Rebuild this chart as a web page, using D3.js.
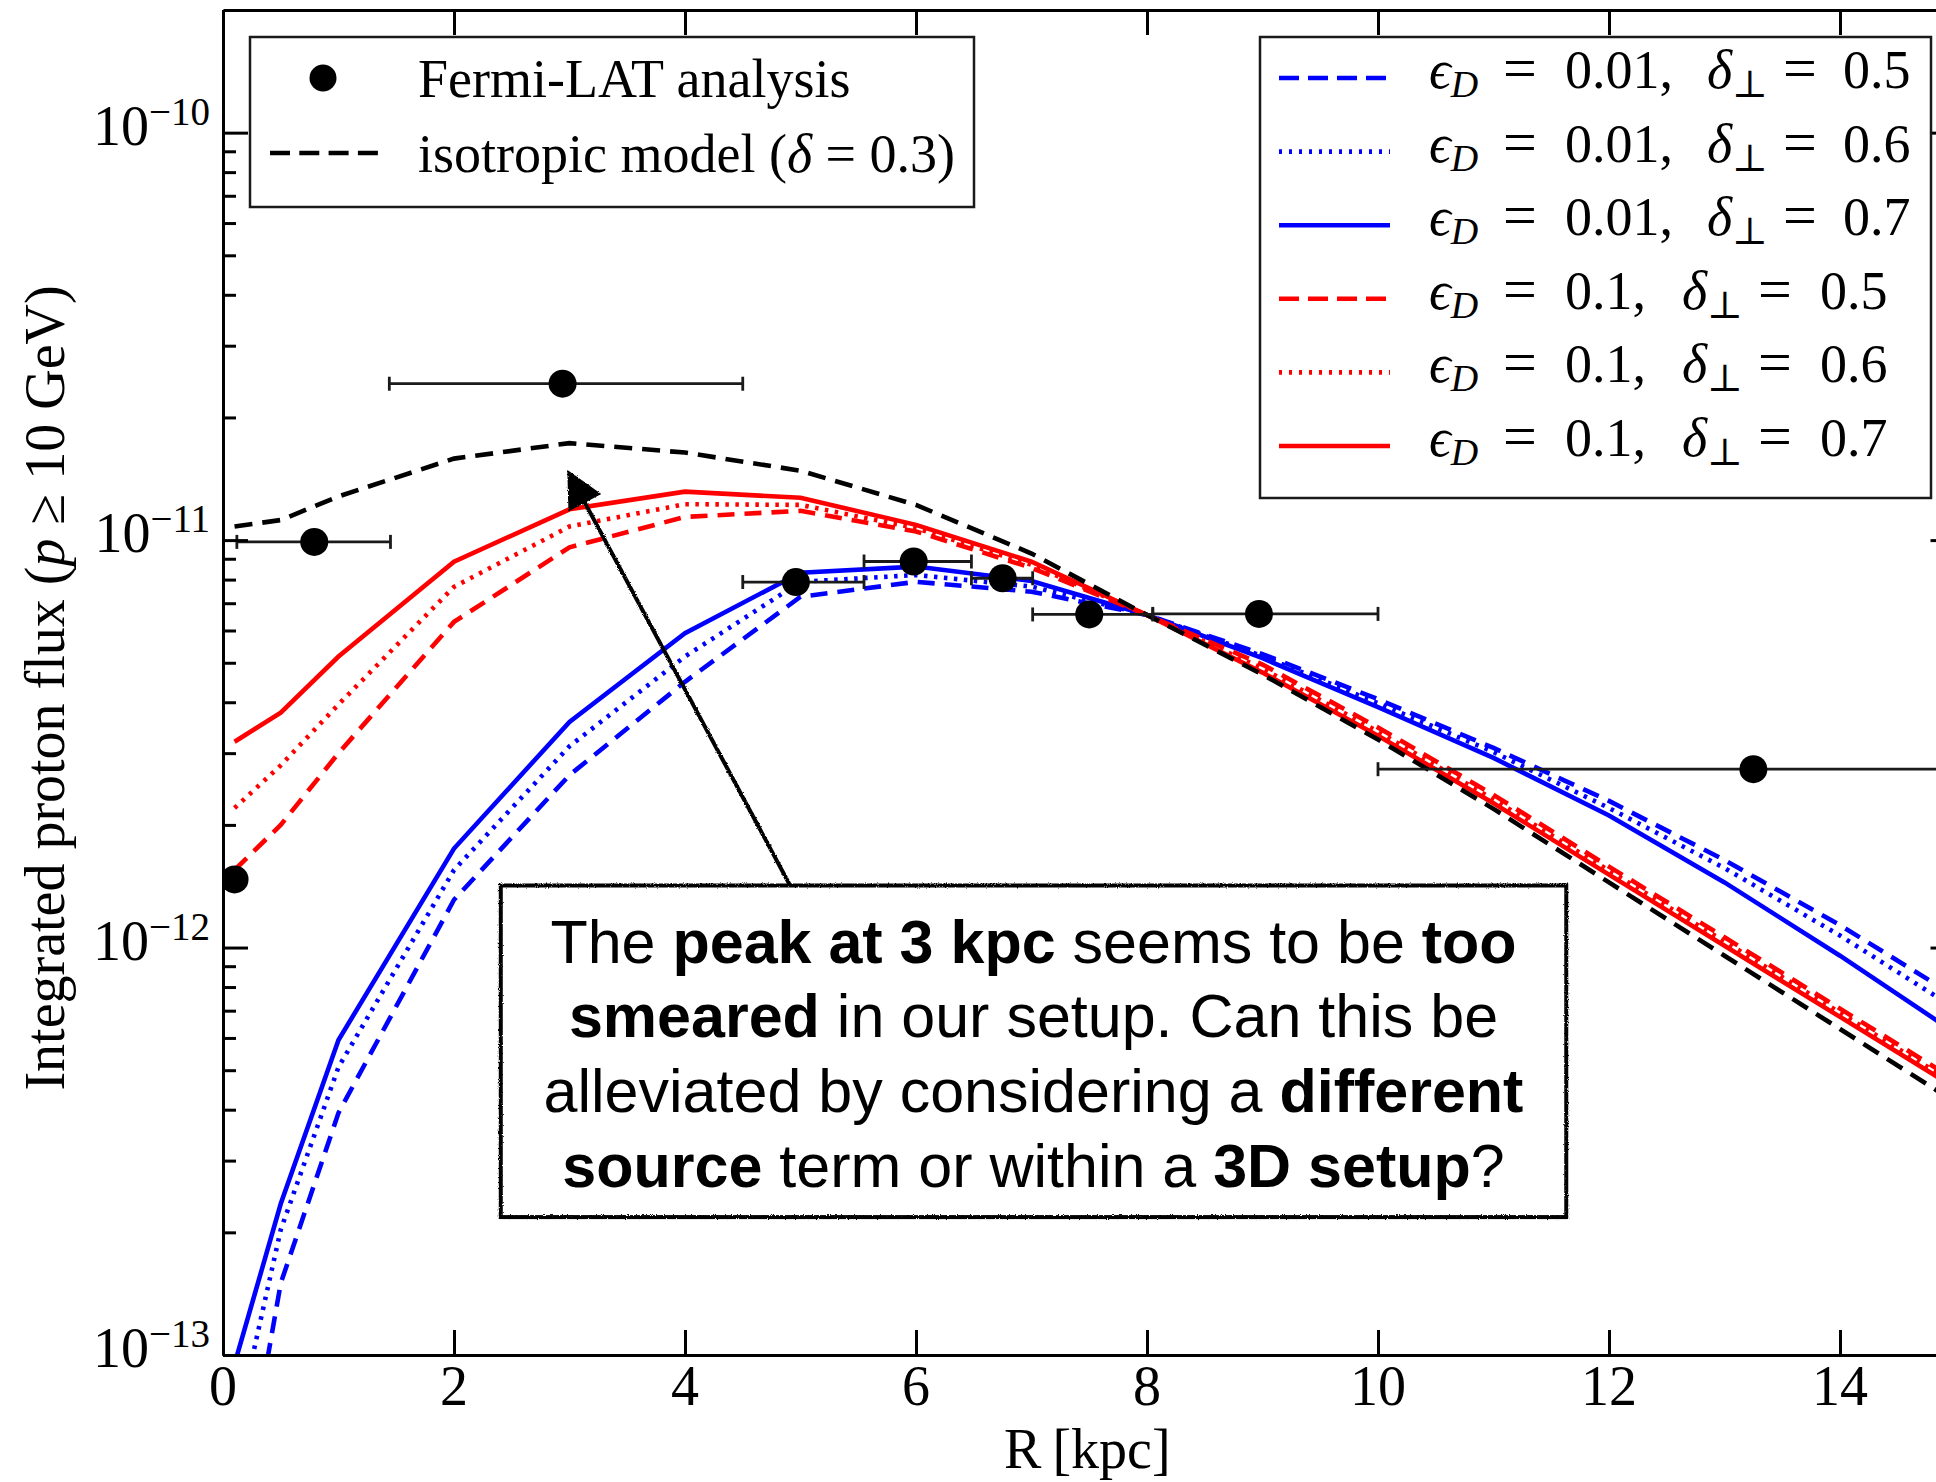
<!DOCTYPE html>
<html>
<head>
<meta charset="utf-8">
<script src="https://cdn.jsdelivr.net/npm/d3@7/dist/d3.min.js"></script>
<style>
  body { margin: 0; background: #fff; }
  svg { display: block; }
  .serif { font-family: "Liberation Serif", "DejaVu Serif", serif; fill: #000; }
  .sans { font-family: "Liberation Sans", Arial, sans-serif; fill: #000; }
</style>
</head>
<body>
<svg id="chart"></svg>
<script>
// radial grid of the model curves [kpc]
var radius = [0.1, 0.5, 1, 2, 3, 4, 5, 6, 7, 8, 9, 10, 11, 12, 13, 14, 15];

// integrated proton flux, isotropic model (delta = 0.3)
var isoFlux = [1.08e-11, 1.12e-11, 1.28e-11, 1.585e-11, 1.73e-11, 1.64e-11, 1.48e-11, 1.22e-11, 9.27e-12,
  6.55e-12, 4.68e-12, 3.24e-12, 2.19e-12, 1.445e-12, 9.55e-13, 6.31e-13, 4.17e-13];

// anisotropic models, eps_D = 0.01
var fluxE001d05 = [3.4e-14, 1.5e-13, 3.93e-13, 1.31e-12, 2.65e-12, 4.49e-12, 7.26e-12, 7.9e-12, 7.47e-12,
  6.55e-12, 5.25e-12, 4.07e-12, 3.09e-12, 2.29e-12, 1.64e-12, 1.135e-12, 7.59e-13];
var fluxE001d06 = [6.3e-14, 2.03e-13, 5.09e-13, 1.55e-12, 3.12e-12, 5.18e-12, 7.9e-12, 8.21e-12, 7.69e-12,
  6.55e-12, 5.19e-12, 3.98e-12, 3.02e-12, 2.2e-12, 1.567e-12, 1.07e-12, 7.08e-13];
var fluxE001d07 = [9.5e-14, 2.35e-13, 5.93e-13, 1.75e-12, 3.58e-12, 5.91e-12, 8.32e-12, 8.61e-12, 7.94e-12,
  6.55e-12, 5.13e-12, 3.89e-12, 2.92e-12, 2.11e-12, 1.445e-12, 9.55e-13, 6.17e-13];

// anisotropic models, eps_D = 0.1
var fluxE01d05 = [1.55e-12, 2.0e-12, 3.0e-12, 6.3e-12, 9.6e-12, 1.14e-11, 1.18e-11, 1.05e-11, 8.55e-12,
  6.55e-12, 4.95e-12, 3.47e-12, 2.37e-12, 1.58e-12, 1.06e-12, 7.08e-13, 4.73e-13];
var fluxE01d06 = [2.2e-12, 2.8e-12, 3.95e-12, 7.68e-12, 1.08e-11, 1.225e-11, 1.22e-11, 1.07e-11, 8.7e-12,
  6.55e-12, 4.84e-12, 3.39e-12, 2.31e-12, 1.545e-12, 1.035e-12, 6.92e-13, 4.62e-13];
var fluxE01d07 = [3.2e-12, 3.77e-12, 5.18e-12, 8.85e-12, 1.19e-11, 1.315e-11, 1.27e-11, 1.09e-11, 8.85e-12,
  6.55e-12, 4.73e-12, 3.31e-12, 2.26e-12, 1.51e-12, 1.01e-12, 6.76e-13, 4.52e-13];

// Fermi-LAT analysis points
var fermiR    = [0.1, 0.79, 2.94, 4.96, 5.98, 6.75, 7.5, 8.97, 13.25];
var fermiFlux = [1.47e-12, 9.9e-12, 2.42e-11, 7.89e-12, 8.86e-12, 8.06e-12, 6.57e-12, 6.59e-12, 2.74e-12];
var fermiRMin = [0.1, 0.12, 1.44, 4.5, 5.55, 6.48, 7.01, 8.05, 10.0];
var fermiRMax = [0.1, 1.45, 4.5, 5.55, 6.48, 7.01, 8.05, 10.0, 16.5];

// ticks
var xTicks = [0, 2, 4, 6, 8, 10, 12, 14];
var yDecades = [-13, -12, -11, -10];

// legend labels
var epsLabels = ["0.01", "0.01", "0.01", "0.1", "0.1", "0.1"];
var deltaLabels = ["0.5", "0.6", "0.7", "0.5", "0.6", "0.7"];

// annotation (data coordinates)
var noteBoxR = [2.405, 11.63];
var noteBoxFlux = [2.18e-13, 1.42e-12];
var arrowFrom = [4.91, 1.42e-12];
var arrowTo = [2.99, 1.47e-11];

var margin = {top: 10, left: 223},
    width = 1732.5,
    height = 1345;

var x = d3.scaleLinear().domain([0, 15]).range([0, width]);
var y = d3.scaleLog().domain([1e-13, 2e-10]).range([height, 0]);

var svg = d3.select("#chart").attr("width", 1936).attr("height", 1482);

var defs = svg.append("defs");
defs.append("clipPath").attr("id", "plot-clip")
  .append("rect").attr("width", width).attr("height", height);
var rough = defs.append("filter").attr("id", "rough")
  .attr("x", "-5%").attr("y", "-5%").attr("width", "110%").attr("height", "110%");
rough.append("feTurbulence").attr("type", "fractalNoise").attr("baseFrequency", 0.9)
  .attr("numOctaves", 1).attr("seed", 4).attr("result", "noise");
rough.append("feDisplacementMap").attr("in", "SourceGraphic").attr("in2", "noise")
  .attr("scale", 3).attr("xChannelSelector", "R").attr("yChannelSelector", "G");

var g = svg.append("g")
  .attr("transform", "translate(" + margin.left + "," + margin.top + ")");

// model curves
var models = [
  {values: fluxE001d05, color: "#0000ff", dash: "17,10"},
  {values: fluxE001d06, color: "#0000ff", dash: "3.5,6.5"},
  {values: fluxE001d07, color: "#0000ff", dash: null},
  {values: fluxE01d05, color: "#ff0000", dash: "17,10"},
  {values: fluxE01d06, color: "#ff0000", dash: "3.5,6.5"},
  {values: fluxE01d07, color: "#ff0000", dash: null},
  {values: isoFlux, color: "#000000", dash: "18,10"}
];

var line = d3.line()
  .x(function(d) { return x(d[0]); })
  .y(function(d) { return y(d[1]); });

var plot = g.append("g").attr("clip-path", "url(#plot-clip)");

models.forEach(function(m) {
  plot.append("path")
    .datum(radius.map(function(r, i) { return [r, m.values[i]]; }))
    .attr("fill", "none")
    .attr("stroke", m.color)
    .attr("stroke-width", 4.6)
    .attr("stroke-dasharray", m.dash)
    .attr("d", line);
});

// data points with horizontal error bars
var points = fermiR.map(function(r, i) {
  return {r: r, flux: fermiFlux[i], lo: fermiRMin[i], hi: fermiRMax[i]};
});

points.forEach(function(p) {
  if (p.hi > p.lo) {
    plot.append("line")
      .attr("x1", x(p.lo)).attr("x2", x(p.hi))
      .attr("y1", y(p.flux)).attr("y2", y(p.flux))
      .attr("stroke", "#1a1a1a").attr("stroke-width", 2.8);
    [p.lo, p.hi].forEach(function(e) {
      plot.append("line")
        .attr("x1", x(e)).attr("x2", x(e))
        .attr("y1", y(p.flux) - 7).attr("y2", y(p.flux) + 7)
        .attr("stroke", "#1a1a1a").attr("stroke-width", 2.8);
    });
  }
});

plot.selectAll("circle.pt")
  .data(points)
  .enter().append("circle")
  .attr("class", "pt")
  .attr("cx", function(d) { return x(d.r); })
  .attr("cy", function(d) { return y(d.flux); })
  .attr("r", 14)
  .attr("fill", "#000");

// axes
var majorY = yDecades.map(function(k) { return Math.pow(10, k); });
var minorY = [];
yDecades.slice(0, 3).forEach(function(k) {
  for (var m = 2; m <= 9; m++) minorY.push(m * Math.pow(10, k));
});

function styleAxis(sel) {
  sel.selectAll("path.domain").attr("stroke-width", 3);
  sel.selectAll(".tick line").attr("stroke-width", 3);
  sel.selectAll(".tick text").remove();
}

g.append("g").attr("transform", "translate(0," + height + ")")
  .call(d3.axisBottom(x).tickValues(xTicks).tickSize(-25).tickSizeOuter(0).tickFormat(""))
  .call(styleAxis);
g.append("g")
  .call(d3.axisTop(x).tickValues(xTicks).tickSize(-25).tickSizeOuter(0).tickFormat(""))
  .call(styleAxis);
g.append("g")
  .call(d3.axisLeft(y).tickValues(majorY).tickSize(-25).tickSizeOuter(0).tickFormat(""))
  .call(styleAxis);
g.append("g")
  .call(d3.axisLeft(y).tickValues(minorY).tickSize(-13).tickSizeOuter(0).tickFormat(""))
  .call(styleAxis);
g.append("g").attr("transform", "translate(" + width + ",0)")
  .call(d3.axisRight(y).tickValues(majorY).tickSize(-25).tickSizeOuter(0).tickFormat(""))
  .call(styleAxis);
g.append("g").attr("transform", "translate(" + width + ",0)")
  .call(d3.axisRight(y).tickValues(minorY).tickSize(-13).tickSizeOuter(0).tickFormat(""))
  .call(styleAxis);

// tick labels
g.selectAll("text.xlab")
  .data(xTicks)
  .enter().append("text")
  .attr("class", "xlab serif")
  .attr("x", function(d) { return x(d); })
  .attr("y", height + 50)
  .attr("text-anchor", "middle")
  .attr("font-size", 56)
  .text(function(d) { return d; });

yDecades.forEach(function(k) {
  var t = g.append("text")
    .attr("class", "serif")
    .attr("x", -13)
    .attr("y", y(Math.pow(10, k)) + 12)
    .attr("text-anchor", "end")
    .attr("font-size", 56);
  t.append("tspan").text("10");
  t.append("tspan").attr("dy", -20).attr("font-size", 39).text("\u2212" + Math.abs(k));
});

// axis titles
g.append("text")
  .attr("class", "serif")
  .attr("x", width / 2 - 2)
  .attr("y", height + 113)
  .attr("text-anchor", "middle")
  .attr("font-size", 56)
  .text("R\u2009[kpc]");

var ylab = svg.append("text")
  .attr("class", "serif")
  .attr("transform", "translate(64,688) rotate(-90)")
  .attr("text-anchor", "middle")
  .attr("font-size", 56);
ylab.append("tspan").text("Integrated proton flux (");
ylab.append("tspan").attr("font-style", "italic").text("p");
ylab.append("tspan").text(" \u2265 10 GeV)");

// legend: data + isotropic
var leg1 = svg.append("g");
leg1.append("rect")
  .attr("x", 250).attr("y", 37).attr("width", 724).attr("height", 170)
  .attr("fill", "#fff").attr("stroke", "#1a1a1a").attr("stroke-width", 2.5);
leg1.append("circle").attr("cx", 323).attr("cy", 78).attr("r", 13.5).attr("fill", "#000");
leg1.append("line").attr("x1", 270).attr("x2", 378).attr("y1", 153).attr("y2", 153)
  .attr("stroke", "#000").attr("stroke-width", 4.6).attr("stroke-dasharray", "20,9.3");
leg1.append("text").attr("class", "serif").attr("x", 418).attr("y", 97)
  .attr("font-size", 54).text("Fermi-LAT analysis");
var isoText = leg1.append("text").attr("class", "serif").attr("x", 418).attr("y", 172)
  .attr("font-size", 54);
isoText.append("tspan").text("isotropic model (");
isoText.append("tspan").attr("font-style", "italic").text("\u03b4");
isoText.append("tspan").text(" = 0.3)");

// legend: anisotropic models
var leg2 = svg.append("g");
leg2.append("rect")
  .attr("x", 1260).attr("y", 37).attr("width", 671).attr("height", 461)
  .attr("fill", "#fff").attr("stroke", "#1a1a1a").attr("stroke-width", 2.5);

models.slice(0, 6).forEach(function(m, i) {
  var rowY = 78 + i * 73.6;
  var shortEps = epsLabels[i].length < 4;
  leg2.append("line")
    .attr("x1", 1279).attr("x2", 1390).attr("y1", rowY).attr("y2", rowY)
    .attr("stroke", m.color).attr("stroke-width", 4.6)
    .attr("stroke-dasharray", m.dash ? (m.dash === "17,10" ? "20,9" : "3,7") : null);
  var t = leg2.append("text").attr("class", "serif")
    .attr("x", 1429).attr("y", rowY + 10).attr("font-size", 54);
  t.append("tspan").attr("font-style", "italic").text("\u03f5");
  t.append("tspan").attr("font-style", "italic").attr("font-size", 38).attr("dy", 9).text("D");
  t.append("tspan").attr("x", 1503).attr("dy", -9).attr("font-size", 60).text("=");
  t.append("tspan").attr("x", 1565).text(epsLabels[i] + ",");
  t.append("tspan").attr("x", shortEps ? 1682 : 1707).attr("font-style", "italic").text("\u03b4");
  t.append("tspan").attr("font-size", 38).attr("dy", 9).text("\u22a5");
  t.append("tspan").attr("x", shortEps ? 1758 : 1783).attr("dy", -9).attr("font-size", 60).text("=");
  t.append("tspan").attr("x", shortEps ? 1820 : 1843).text(deltaLabels[i]);
});

// annotation box and arrow
var note = g.append("g");
var bx0 = x(noteBoxR[0]), bx1 = x(noteBoxR[1]),
    by0 = y(noteBoxFlux[1]), by1 = y(noteBoxFlux[0]);

var ax0 = x(arrowFrom[0]), ay0 = y(arrowFrom[1]),
    ax1 = x(arrowTo[0]), ay1 = y(arrowTo[1]);
var len = Math.sqrt((ax1 - ax0) * (ax1 - ax0) + (ay1 - ay0) * (ay1 - ay0)),
    ux = (ax1 - ax0) / len, uy = (ay1 - ay0) / len;
var headL = 34, headW = 17;
var hbx = ax1 - ux * headL, hby = ay1 - uy * headL;

note.append("line")
  .attr("x1", ax0).attr("y1", ay0).attr("x2", hbx + ux * 4).attr("y2", hby + uy * 4)
  .attr("stroke", "#000").attr("stroke-width", 4)
  .attr("filter", "url(#rough)");
note.append("path")
  .attr("d", "M" + ax1 + "," + ay1 +
    "L" + (hbx - uy * headW) + "," + (hby + ux * headW) +
    "L" + (hbx + uy * headW) + "," + (hby - ux * headW) + "Z")
  .attr("fill", "#000").attr("stroke", "#000").attr("stroke-width", 2)
  .attr("filter", "url(#rough)");

note.append("rect")
  .attr("x", bx0).attr("y", by0)
  .attr("width", bx1 - bx0).attr("height", by1 - by0)
  .attr("fill", "#fff").attr("stroke", "#000").attr("stroke-width", 4)
  .attr("filter", "url(#rough)");

var noteLines = [
  [["The ", false], ["peak at 3 kpc", true], [" seems to be ", false], ["too", true]],
  [["smeared", true], [" in our setup. Can this be", false]],
  [["alleviated by considering a ", false], ["different", true]],
  [["source", true], [" term or within a ", false], ["3D setup", true], ["?", false]]
];

noteLines.forEach(function(parts, i) {
  var t = note.append("text")
    .attr("class", "sans")
    .attr("x", (bx0 + bx1) / 2)
    .attr("y", by0 + 77 + i * 74.7)
    .attr("text-anchor", "middle")
    .attr("font-size", 61);
  parts.forEach(function(p) {
    t.append("tspan").attr("font-weight", p[1] ? "bold" : "normal").text(p[0]);
  });
});
</script>
</body>
</html>
